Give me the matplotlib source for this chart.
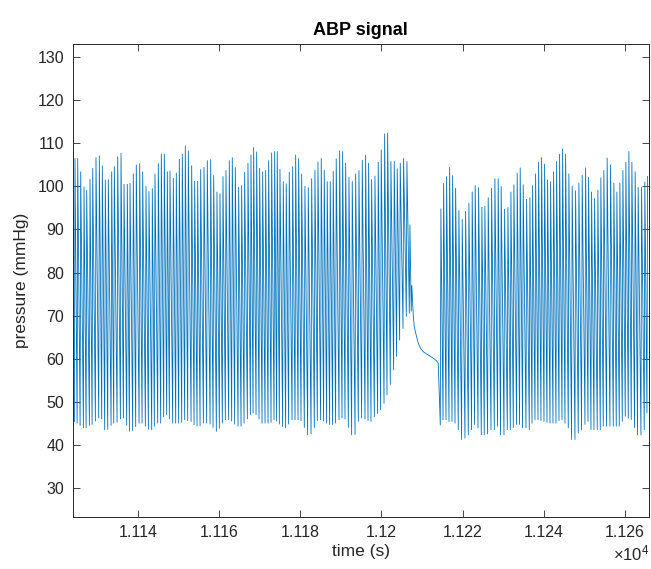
import numpy as np
import matplotlib
matplotlib.use("Agg")
import matplotlib.pyplot as plt
from matplotlib.ticker import FuncFormatter

plt.rcParams['font.family'] = ['Liberation Sans', 'DejaVu Sans']
plt.rcParams['mathtext.fontset'] = 'custom'
plt.rcParams['mathtext.rm'] = 'Liberation Sans'

# --- data ------------------------------------------------------------------
# segment before the line artefact: systolic peak times (s), peaks and feet (mmHg)
seg1_t = [11124.41, 11125.08, 11125.82, 11126.63, 11127.30, 11128.11, 11128.78, 11129.59, 11130.41, 11131.15,
          11131.89, 11132.63, 11133.46, 11134.11, 11134.94, 11135.76, 11136.50, 11137.31, 11137.98, 11138.79,
          11139.53, 11140.37, 11141.11, 11141.92, 11142.66, 11143.48, 11144.14, 11144.96, 11145.70, 11146.44,
          11147.18, 11147.84, 11148.66, 11149.40, 11150.14, 11150.88, 11151.62, 11152.36, 11153.19, 11153.93,
          11154.67, 11155.41, 11156.23, 11157.04, 11157.88, 11158.62, 11159.43, 11160.17, 11160.91, 11161.65,
          11162.47, 11163.21, 11163.95, 11164.78, 11165.52, 11166.26, 11167.08, 11167.82, 11168.48, 11169.22,
          11169.96, 11170.70, 11171.44, 11172.18, 11172.92, 11173.66, 11174.30, 11174.97, 11175.78, 11176.52,
          11177.26, 11178.10, 11178.84, 11179.58, 11180.32, 11181.13, 11181.95, 11182.79, 11183.60, 11184.34,
          11185.15, 11185.89, 11186.63, 11187.37, 11188.11, 11188.85, 11189.69, 11190.43, 11191.17, 11191.99,
          11192.80, 11193.64, 11194.45, 11195.27, 11196.10, 11196.84, 11197.58, 11198.40, 11199.21, 11199.95,
          11200.79, 11201.53, 11202.34, 11203.16, 11203.90, 11204.64, 11205.47, 11206.29, 11207.03, 11207.50]
seg1_sys = [106.5, 106.5, 103.4, 99.9, 99.1, 101.6, 104.2, 106.7, 107.1, 104.8,
            101.5, 101.6, 103.4, 104.6, 106.9, 107.7, 100.5, 100.5, 100.7, 102.9,
            105.0, 105.3, 103.4, 100.0, 98.8, 99.5, 102.9, 105.3, 107.5, 107.5,
            103.4, 103.6, 101.9, 103.1, 106.3, 107.5, 109.4, 108.3, 104.8, 101.2,
            101.2, 103.9, 104.4, 106.0, 106.2, 102.5, 98.7, 98.3, 102.3, 103.7,
            106.0, 106.7, 104.4, 99.8, 100.2, 103.3, 105.4, 107.3, 109.0, 108.0,
            104.2, 103.4, 103.7, 106.0, 107.8, 108.1, 108.1, 104.0, 101.1, 100.6,
            103.3, 104.6, 107.3, 106.5, 102.9, 100.0, 99.7, 101.8, 103.8, 105.7,
            106.5, 103.8, 101.1, 101.1, 103.5, 106.4, 108.3, 108.1, 105.4, 102.1,
            101.2, 102.9, 103.7, 106.1, 107.3, 105.4, 101.6, 102.4, 105.6, 108.5,
            112.2, 112.4, 105.8, 105.8, 104.1, 105.4, 106.5, 105.8, 91.1, 77.0]
seg1_dia = [45.4, 45.0, 44.5, 43.9, 44.0, 44.5, 44.7, 45.5, 46.2, 46.0,
            43.5, 43.6, 44.5, 45.0, 45.2, 46.0, 46.2, 44.5, 43.1, 43.3,
            44.2, 45.0, 45.0, 44.3, 43.6, 43.5, 44.3, 45.0, 45.0, 46.5,
            47.0, 46.0, 45.0, 45.0, 45.0, 45.2, 45.8, 45.6, 45.4, 44.6,
            44.3, 44.4, 45.0, 45.0, 44.8, 44.0, 43.1, 43.8, 45.0, 45.8,
            45.8, 45.5, 44.8, 44.3, 44.3, 45.0, 46.0, 47.0, 47.4, 47.0,
            46.0, 45.0, 45.0, 45.0, 45.2, 45.8, 45.5, 44.8, 44.2, 43.9,
            44.8, 45.8, 45.8, 45.8, 45.6, 44.0, 42.3, 42.5, 44.0, 45.6,
            45.8, 45.5, 45.0, 44.7, 44.7, 45.0, 45.8, 46.2, 46.0, 44.0,
            42.3, 42.4, 45.4, 46.2, 46.0, 45.6, 45.4, 46.5, 47.3, 48.1,
            49.6, 51.6, 54.0, 57.4, 60.5, 64.3, 67.0, 69.8, 70.5, 71.0]

# damped stretch (flush) between the two segments
flush_t = [11207.85, 11208.10, 11208.67, 11209.08, 11209.66, 11210.32,
           11211.14, 11211.96, 11212.78, 11213.61, 11214.02]
flush_v = [70.1, 67.4, 65.1, 63.6, 62.4, 61.6, 61.1, 60.6, 60.1, 59.5, 58.9]

# segment after the artefact
seg2_t = [11214.67, 11215.34, 11216.08, 11216.82, 11217.56, 11218.30, 11219.11, 11219.93, 11220.76, 11221.58,
          11222.39, 11223.13, 11223.97, 11224.78, 11225.52, 11226.34, 11227.18, 11227.99, 11228.80, 11229.54,
          11230.38, 11231.20, 11231.94, 11232.68, 11233.49, 11234.23, 11234.97, 11235.81, 11236.62, 11237.29,
          11238.03, 11238.77, 11239.51, 11240.25, 11240.99, 11241.73, 11242.47, 11243.21, 11243.95, 11244.69,
          11245.43, 11246.24, 11247.05, 11247.89, 11248.71, 11249.52, 11250.36, 11251.10, 11251.84, 11252.58,
          11253.39, 11254.13, 11254.87, 11255.68, 11256.52, 11257.34, 11258.08, 11258.82, 11259.56, 11260.30,
          11261.04, 11261.78, 11262.59, 11263.33, 11264.17, 11264.98, 11265.65]
seg2_sys = [94.8, 100.7, 102.3, 104.4, 102.5, 99.6, 94.4, 92.3, 94.2, 96.1,
            98.7, 100.2, 99.7, 95.2, 95.4, 97.4, 99.6, 101.8, 101.8, 100.0,
            94.7, 95.1, 98.7, 100.4, 103.1, 104.3, 100.4, 97.0, 97.4, 100.2,
            102.9, 105.6, 106.7, 105.2, 101.5, 101.1, 103.4, 105.8, 107.5, 108.7,
            107.5, 102.9, 100.1, 99.0, 100.8, 102.6, 104.3, 102.1, 98.7, 97.2,
            99.1, 102.0, 103.7, 106.6, 105.0, 100.8, 98.7, 100.8, 103.7, 105.6,
            108.1, 105.6, 103.4, 99.8, 99.8, 101.0, 102.3]
seg2_dia = [44.6, 45.8, 45.8, 45.4, 45.4, 45.0, 43.5, 41.2, 41.5, 42.3,
            43.5, 44.7, 43.9, 42.3, 42.3, 42.5, 43.5, 43.5, 44.3, 42.3,
            42.3, 43.5, 43.5, 44.0, 44.7, 44.7, 43.9, 43.9, 43.5, 45.0,
            45.8, 45.8, 45.6, 45.4, 45.2, 45.0, 45.0, 45.0, 45.6, 45.8,
            45.0, 43.9, 41.2, 41.2, 42.7, 43.5, 44.7, 45.4, 43.5, 43.5,
            43.5, 43.5, 44.3, 44.3, 44.3, 44.3, 44.3, 44.3, 45.4, 46.6,
            46.2, 45.8, 44.0, 42.3, 42.3, 43.5, 47.4]

xticks = [11140, 11160, 11180, 11200, 11220, 11240, 11260]
yticks = [30, 40, 50, 60, 70, 80, 90, 100, 110, 120, 130]


def beats(t_peak, sys, dia, rise=0.15):
    # foot of each beat just before its systolic peak
    t_peak = np.asarray(t_peak)
    t = np.column_stack([t_peak - rise, t_peak]).ravel()
    v = np.column_stack([dia, sys]).ravel()
    return t, v


t1, v1 = beats(seg1_t, seg1_sys, seg1_dia)
t2, v2 = beats(seg2_t, seg2_sys, seg2_dia)
t = np.concatenate([t1, flush_t, t2])
abp = np.concatenate([v1, flush_v, v2])

fig = plt.figure(figsize=(6.51, 5.69), dpi=100)
ax = fig.add_axes([0.1114, 0.0921, 0.8855, 0.8299])
ax.plot(t, abp, color='#0072BD', lw=0.6)

ax.set_xlim(11123.8, 11266.0)
ax.set_ylim(23.3, 133.0)
ax.set_xticks(xticks)
ax.set_yticks(yticks)
ax.xaxis.set_major_formatter(FuncFormatter(lambda v, p: f"{v / 1e4:g}"))
ax.tick_params(direction='in', length=5, width=0.6, colors='#262626',
               labelsize=11.5, top=True, right=True, pad=6)
for s in ax.spines.values():
    s.set_color('#262626')
    s.set_linewidth(0.7)

ax.set_title('ABP signal', fontsize=13, fontweight='bold', pad=7)
ax.set_xlabel('time (s)', fontsize=12.5, color='#262626', labelpad=3)
ax.set_ylabel('pressure (mmHg)', fontsize=12.5, color='#262626', labelpad=6)
fig.text(0.997, 0.028, r'$\mathregular{\times10^{4}}$', ha='right', va='center',
         fontsize=12, color='#262626')

fig.savefig('out.png', dpi=100)
